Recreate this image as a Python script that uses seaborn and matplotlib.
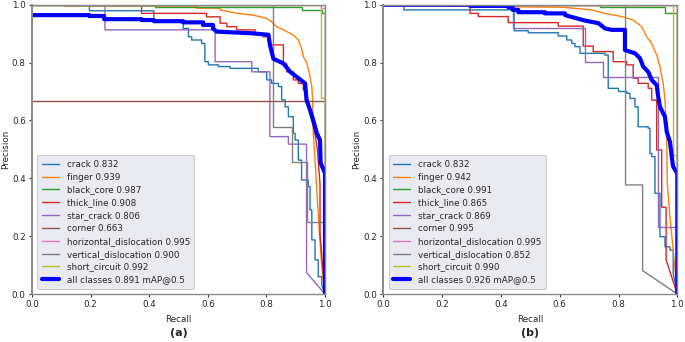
import matplotlib
matplotlib.use("Agg")
import matplotlib.pyplot as plt
import seaborn as sns
import pandas as pd

class_names = ["crack", "finger", "black_core", "thick_line", "star_crack", "corner",
               "horizontal_dislocation", "vertical_dislocation", "short_circuit"]
ap_a = [0.832, 0.939, 0.987, 0.908, 0.806, 0.663, 0.995, 0.900, 0.992]
ap_b = [0.832, 0.942, 0.991, 0.865, 0.869, 0.995, 0.995, 0.852, 0.990]
map_a = 0.891
map_b = 0.926
panel_labels = ["(a)", "(b)"]
tick_values = [0.0, 0.2, 0.4, 0.6, 0.8, 1.0]

# ---- panel (a): (recall, precision) vertices ----
a_crack = [(0, 1.0), (0.196, 1.0), (0.196, 0.979), (0.416, 0.979), (0.416, 0.944), (0.516, 0.944),
           (0.516, 0.918), (0.534, 0.918), (0.534, 0.889), (0.545, 0.889), (0.545, 0.878), (0.579, 0.878),
           (0.579, 0.866), (0.59, 0.866), (0.59, 0.803), (0.602, 0.803), (0.602, 0.792), (0.636, 0.792),
           (0.636, 0.786), (0.676, 0.786), (0.676, 0.78), (0.772, 0.78), (0.772, 0.768), (0.801, 0.768),
           (0.801, 0.74), (0.818, 0.74), (0.818, 0.728), (0.841, 0.728), (0.841, 0.717), (0.852, 0.717),
           (0.852, 0.671), (0.864, 0.671), (0.864, 0.647), (0.875, 0.647), (0.875, 0.613), (0.892, 0.613),
           (0.892, 0.555), (0.898, 0.555), (0.898, 0.532), (0.909, 0.532), (0.909, 0.463), (0.92, 0.463),
           (0.92, 0.394), (0.943, 0.394), (0.943, 0.371), (0.949, 0.371), (0.949, 0.29), (0.955, 0.29),
           (0.955, 0.187), (0.966, 0.187), (0.966, 0.118), (0.977, 0.118), (0.977, 0.06), (0.989, 0.06),
           (0.989, 0.031), (1.0, 0.0)]
a_finger = [(0, 1.0), (0.11, 1.0), (0.11, 0.995), (0.562, 0.995), (0.562, 0.988), (0.642, 0.988),
            (0.642, 0.982), (0.699, 0.97), (0.755, 0.964), (0.80, 0.953), (0.818, 0.941), (0.835, 0.924),
            (0.858, 0.913), (0.892, 0.895), (0.909, 0.878), (0.92, 0.849), (0.926, 0.82), (0.937, 0.803),
            (0.949, 0.751), (0.955, 0.717), (0.958, 0.66), (0.96, 0.556), (0.966, 0.463), (0.974, 0.325),
            (0.981, 0.21), (0.989, 0.094), (1.0, 0.0)]
a_black_core = [(0, 1.0), (0.42, 1.0), (0.42, 0.993), (0.92, 0.993), (0.92, 0.982), (0.989, 0.982),
                (0.989, 0.97), (1.0, 0.97), (1.0, 0.0)]
a_thick_line = [(0, 1.0), (0.374, 1.0), (0.374, 0.97), (0.596, 0.97), (0.596, 0.958), (0.642, 0.958),
                (0.642, 0.936), (0.665, 0.936), (0.665, 0.924), (0.699, 0.924), (0.699, 0.913), (0.761, 0.913),
                (0.761, 0.90), (0.789, 0.90), (0.789, 0.889), (0.812, 0.889), (0.812, 0.861), (0.858, 0.861),
                (0.858, 0.797), (0.869, 0.797), (0.869, 0.768), (0.892, 0.768), (0.892, 0.74), (0.909, 0.74),
                (0.909, 0.728), (0.926, 0.728), (0.926, 0.705), (0.937, 0.705), (0.937, 0.682), (0.95, 0.62),
                (0.965, 0.56), (0.974, 0.50), (0.983, 0.38), (0.983, 0.21), (0.99, 0.12), (1.0, 0.0)]
a_star_crack = [(0, 1.0), (0.249, 1.0), (0.249, 0.913), (0.625, 0.913), (0.625, 0.803), (0.75, 0.803),
                (0.75, 0.768), (0.812, 0.768), (0.812, 0.544), (0.875, 0.544), (0.875, 0.518), (0.937, 0.518),
                (0.937, 0.074), (1.0, 0.0)]
a_corner = [(0, 0.667), (1.0, 0.667), (1.0, 0.0)]
a_horizontal_dislocation = [(0, 1.0), (0.985, 1.0), (0.985, 0.988), (1.0, 0.988), (1.0, 0.0)]
a_vertical_dislocation = [(0, 1.0), (0.824, 1.0), (0.824, 0.578), (0.886, 0.578), (0.886, 0.457),
                          (0.94, 0.457), (0.94, 0.25), (1.0, 0.25), (1.0, 0.0)]
a_short_circuit = [(0, 1.0), (0.985, 1.0), (0.985, 0.676), (1.0, 0.676), (1.0, 0.0)]
a_all = [(0, 0.964), (0.196, 0.964), (0.196, 0.961), (0.246, 0.961), (0.246, 0.95), (0.374, 0.95),
         (0.374, 0.947), (0.416, 0.947), (0.416, 0.943), (0.516, 0.943), (0.516, 0.939), (0.584, 0.939),
         (0.584, 0.93), (0.618, 0.93), (0.618, 0.918), (0.63, 0.907), (0.754, 0.901), (0.807, 0.896),
         (0.812, 0.861), (0.824, 0.813), (0.858, 0.797), (0.881, 0.768), (0.903, 0.751), (0.932, 0.728),
         (0.937, 0.671), (0.949, 0.636), (0.96, 0.60), (0.972, 0.556), (0.983, 0.532), (0.985, 0.453),
         (1.0, 0.418), (1.0, 0.0)]

# ---- panel (b) ----
b_crack = [(0, 1.0), (0.07, 1.0), (0.07, 0.982), (0.445, 0.982), (0.445, 0.91), (0.493, 0.91),
           (0.493, 0.903), (0.595, 0.903), (0.595, 0.892), (0.624, 0.892), (0.624, 0.878), (0.641, 0.878),
           (0.641, 0.866), (0.652, 0.866), (0.652, 0.855), (0.669, 0.855), (0.669, 0.832), (0.754, 0.832),
           (0.754, 0.826), (0.765, 0.826), (0.765, 0.711), (0.80, 0.711), (0.80, 0.70), (0.828, 0.70),
           (0.828, 0.694), (0.839, 0.694), (0.839, 0.676), (0.856, 0.676), (0.856, 0.647), (0.867, 0.647),
           (0.867, 0.578), (0.901, 0.578), (0.901, 0.573), (0.907, 0.573), (0.907, 0.486), (0.913, 0.486),
           (0.913, 0.475), (0.924, 0.475), (0.924, 0.348), (0.941, 0.348), (0.941, 0.198), (0.958, 0.198),
           (0.958, 0.163), (0.975, 0.163), (0.975, 0.152), (0.986, 0.152), (0.986, 0.071), (1.0, 0.0)]
b_finger = [(0, 1.0), (0.136, 1.0), (0.136, 0.996), (0.612, 0.991), (0.709, 0.982), (0.754, 0.97),
            (0.811, 0.959), (0.85, 0.947), (0.879, 0.924), (0.896, 0.889), (0.913, 0.866), (0.93, 0.826),
            (0.941, 0.786), (0.952, 0.728), (0.958, 0.671), (0.964, 0.556), (0.966, 0.383), (0.975, 0.267),
            (0.986, 0.152), (1.0, 0.0)]
b_black_core = [(0, 1.0), (0.737, 1.0), (0.737, 0.993), (0.958, 0.993), (0.958, 0.97), (1.0, 0.97),
                (1.0, 0.0)]
b_thick_line = [(0, 1.0), (0.295, 1.0), (0.295, 0.97), (0.323, 0.97), (0.323, 0.959), (0.425, 0.959),
                (0.425, 0.938), (0.595, 0.938), (0.595, 0.926), (0.68, 0.926), (0.68, 0.857), (0.714, 0.857),
                (0.714, 0.838), (0.782, 0.838), (0.782, 0.803), (0.828, 0.803), (0.828, 0.792), (0.85, 0.792),
                (0.85, 0.746), (0.867, 0.746), (0.867, 0.728), (0.901, 0.728), (0.901, 0.711), (0.913, 0.711),
                (0.913, 0.67), (0.93, 0.67), (0.93, 0.498), (0.947, 0.498), (0.947, 0.30), (0.962, 0.30),
                (0.962, 0.118), (1.0, 0.0)]
b_star_crack = [(0, 1.0), (0.44, 1.0), (0.44, 0.918), (0.686, 0.918), (0.686, 0.803), (0.748, 0.803),
                (0.748, 0.751), (0.935, 0.751), (0.935, 0.233), (1.0, 0.233), (1.0, 0.0)]
b_corner = [(0, 1.0), (1.0, 1.0), (1.0, 0.0)]
b_horizontal_dislocation = [(0, 1.0), (1.0, 1.0), (1.0, 0.0)]
b_vertical_dislocation = [(0, 1.0), (0.824, 1.0), (0.824, 0.377), (0.882, 0.377), (0.882, 0.081),
                          (1.0, 0.0)]
b_short_circuit = [(0, 1.0), (0.984, 1.0), (0.984, 0.48), (1.0, 0.48), (1.0, 0.0)]
b_all = [(0, 1.0), (0.295, 1.0), (0.295, 0.996), (0.425, 0.996), (0.425, 0.991), (0.44, 0.991),
         (0.44, 0.982), (0.459, 0.982), (0.459, 0.974), (0.55, 0.974), (0.55, 0.97), (0.618, 0.97),
         (0.618, 0.964), (0.686, 0.945), (0.732, 0.936), (0.754, 0.918), (0.777, 0.913), (0.822, 0.913),
         (0.822, 0.843), (0.856, 0.832), (0.873, 0.815), (0.884, 0.786), (0.901, 0.768), (0.913, 0.74),
         (0.93, 0.722), (0.935, 0.682), (0.941, 0.647), (0.958, 0.613), (0.964, 0.561), (0.975, 0.526),
         (0.984, 0.452), (0.986, 0.44), (1.0, 0.417), (1.0, 0.0)]

curves_a = [a_crack, a_finger, a_black_core, a_thick_line, a_star_crack, a_corner,
            a_horizontal_dislocation, a_vertical_dislocation, a_short_circuit]
curves_b = [b_crack, b_finger, b_black_core, b_thick_line, b_star_crack, b_corner,
            b_horizontal_dislocation, b_vertical_dislocation, b_short_circuit]

sns.set_style("ticks")
plt.rcParams["font.family"] = ["DejaVu Sans"]
FS = 6.3
plt.rcParams["font.size"] = FS

palette = sns.color_palette("tab10", 10)

fig = plt.figure(figsize=(6.85, 3.42), dpi=100)
ax_a = fig.add_axes([32 / 685, 48 / 342, 293 / 685, 289.3 / 342])
ax_b = fig.add_axes([383.3 / 685, 48 / 342, 294 / 685, 289.3 / 342])

panels = [(ax_a, curves_a, ap_a, a_all, map_a), (ax_b, curves_b, ap_b, b_all, map_b)]
for (ax, curves, aps, allc, m), plabel in zip(panels, panel_labels):
    for i, (name, pts, ap) in enumerate(zip(class_names, curves, aps)):
        df = pd.DataFrame(pts, columns=["recall", "precision"])
        sns.lineplot(data=df, x="recall", y="precision", ax=ax, sort=False, estimator=None,
                     color=palette[i], linewidth=1, label=f"{name} {ap:.3f}")
    df = pd.DataFrame(allc, columns=["recall", "precision"])
    sns.lineplot(data=df, x="recall", y="precision", ax=ax, sort=False, estimator=None,
                 color="blue", linewidth=3, label=f"all classes {m:.3f} mAP@0.5")
    ax.set_xlim(0, 1)
    ax.set_ylim(0, 1)
    ax.set_xticks(tick_values)
    ax.set_yticks(tick_values)
    ax.set_xticklabels([f"{t:.1f}" for t in tick_values])
    ax.set_yticklabels([f"{t:.1f}" for t in tick_values])
    ax.set_xlabel("Recall", fontsize=FS)
    ax.set_ylabel("Precision", fontsize=FS)
    ax.yaxis.set_label_coords(-0.075, 0.5)
    ax.xaxis.set_label_coords(0.5, -0.072)
    ax.tick_params(labelsize=FS, length=2.5, width=0.8, pad=2, color="#333333")
    for s in ax.spines.values():
        s.set_visible(True)
        s.set_color("#888888")
        s.set_linewidth(1.0)
    ax.spines["left"].set_linewidth(1.4)
    leg = ax.legend(loc="lower left", fontsize=FS, labelspacing=0.44, handlelength=2.0,
                    frameon=True, facecolor="#eaeaf2", edgecolor="#cccccc", framealpha=1.0,
                    borderpad=0.5, handletextpad=0.85, borderaxespad=0.6)
    leg.get_frame().set_linewidth(0.8)
    pos = ax.get_position()
    fig.text(pos.x0 + pos.width / 2, 9 / 342, plabel, ha="center", va="center",
             fontsize=8, fontweight="bold")

fig.savefig("out.png", dpi=100)
